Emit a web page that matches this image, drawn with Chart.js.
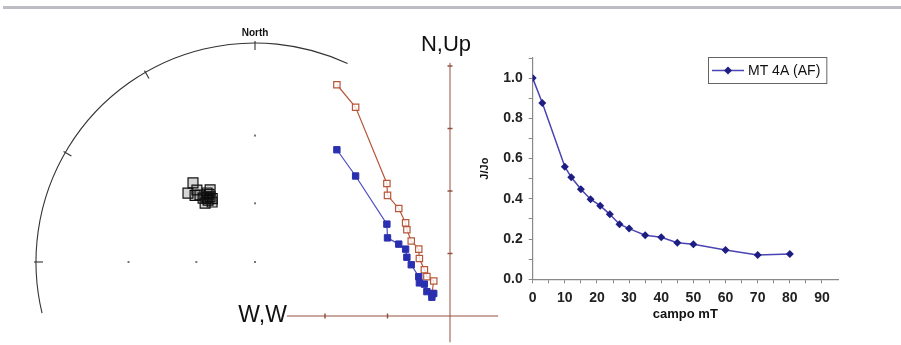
<!DOCTYPE html>
<html><head><meta charset="utf-8">
<script src="https://cdn.jsdelivr.net/npm/chart.js@4.4.0/dist/chart.umd.min.js"></script>
<style>
html,body{margin:0;padding:0;background:#fff;}
body{width:901px;height:345px;position:relative;overflow:hidden;}
#topline{position:absolute;left:3px;top:6px;width:898px;height:3px;background:#bcbcc4;}
#c1{position:absolute;left:0;top:0;}
#c2{position:absolute;left:476px;top:40px;}
</style></head><body>
<div id="topline"></div>
<canvas id="c1" width="505" height="345"></canvas>
<canvas id="c2" width="374" height="300"></canvas>
<script>
// ---- Stereonet (declination / inclination of demagnetisation steps) ----
const stereoDec = [321.9, 315.8, 321.1, 325.2, 328.1, 320.9, 322.8, 324.4, 320.6, 319.7, 325.4, 323.5, 326.0, 318.0, 323.0, 325.8];
const stereoInc = [40.7, 42.6, 44.2, 48.0, 47.6, 48.8, 51.0, 52.8, 46.8, 51.2, 50.3, 49.5, 51.5, 45.5, 50.0, 49.0];
const netLabel = "North";

// ---- Zijderveld diagram ----
const zijEast  = [-1.81, -1.51, -1.01, -1.00, -0.82, -0.71, -0.69, -0.62, -0.50, -0.49, -0.41, -0.37, -0.26, -0.29];
const zijNorth = [2.66, 2.24, 1.47, 1.25, 1.15, 1.07, 0.94, 0.82, 0.63, 0.53, 0.51, 0.39, 0.36, 0.30];
const zijUp    = [3.70, 3.34, 2.12, 1.93, 1.72, 1.49, 1.38, 1.20, 1.07, 0.92, 0.74, 0.63, 0.56, 0.36];
const zijVertLabel = "N,Up";
const zijHorLabel = "W,W";

// ---- AF demagnetisation curve ----
const fieldMT = [0, 3, 10, 12, 15, 18, 21, 24, 27, 30, 35, 40, 45, 50, 60, 70, 80];
const jRatio  = [1.0, 0.876, 0.56, 0.507, 0.448, 0.398, 0.366, 0.323, 0.274, 0.252, 0.219, 0.209, 0.182, 0.174, 0.146, 0.121, 0.126];
const seriesLabel = "MT 4A (AF)";
const xTitle = "campo mT";
const yTitle = "J/Jo";

Chart.defaults.font.family = "'Liberation Sans', Arial, sans-serif";
Chart.defaults.color = '#222';

const D2R = Math.PI / 180;
function stereo(dec, inc) {
  const r = Math.tan((90 - inc) / 2 * D2R);
  return { x: r * Math.sin(dec * D2R), y: r * Math.cos(dec * D2R) };
}

const netPlugin = {
  id: 'netAndAxes',
  beforeDatasetsDraw(chart) {
    const { ctx, scales } = chart;
    const sx = scales.sx, sy = scales.sy, zx = scales.zx, zy = scales.zy;
    const cx = sx.getPixelForValue(0), cy = sy.getPixelForValue(0);
    const r = sx.getPixelForValue(1) - cx;
    ctx.save();
    ctx.strokeStyle = '#333'; ctx.lineWidth = 1.1;
    ctx.beginPath();
    ctx.arc(cx, cy, r, (256.5 - 90) * D2R, (385 - 90) * D2R, false);
    ctx.stroke();
    [270, 300, 330, 360].forEach(az => {
      const a = (az - 90) * D2R;
      ctx.beginPath();
      ctx.moveTo(cx + Math.cos(a) * (r + 2), cy + Math.sin(a) * (r + 2));
      ctx.lineTo(cx + Math.cos(a) * (r - 7), cy + Math.sin(a) * (r - 7));
      ctx.stroke();
    });
    ctx.fillStyle = '#777';
    const dots = [[0, 90], [0, 60], [0, 30], [270, 60], [270, 30]];
    dots.forEach(([d, i]) => {
      const p = stereo(d, i);
      ctx.fillRect(sx.getPixelForValue(p.x) - 1, sy.getPixelForValue(p.y) - 1, 2, 2);
    });
    ctx.fillStyle = '#111';
    ctx.font = "bold 10px 'Liberation Sans', Arial, sans-serif";
    ctx.textAlign = 'center'; ctx.textBaseline = 'middle';
    ctx.fillText(netLabel, cx, cy - r - 10);

    const ox = zx.getPixelForValue(0), oy = zy.getPixelForValue(0);
    ctx.strokeStyle = '#94503f'; ctx.lineWidth = 1;
    ctx.beginPath();
    ctx.moveTo(zx.getPixelForValue(-2.61), oy); ctx.lineTo(zx.getPixelForValue(0.77), oy);
    ctx.moveTo(ox, zy.getPixelForValue(4.05)); ctx.lineTo(ox, zy.getPixelForValue(-0.42));
    ctx.stroke();
    ctx.lineWidth = 1.5;
    [1, 2, 3, 4].forEach(v => {
      const y = zy.getPixelForValue(v);
      ctx.beginPath(); ctx.moveTo(ox - 2.5, y); ctx.lineTo(ox + 2.5, y); ctx.stroke();
    });
    [-1, -2].forEach(v => {
      const x = zx.getPixelForValue(v);
      ctx.beginPath(); ctx.moveTo(x, oy - 2.5); ctx.lineTo(x, oy + 2.5); ctx.stroke();
    });
    ctx.fillStyle = '#111';
    ctx.font = "22px 'Liberation Sans', Arial, sans-serif";
    ctx.textAlign = 'center'; ctx.textBaseline = 'alphabetic';
    ctx.fillText(zijVertLabel, ox - 4, zy.getPixelForValue(4.05) - 12);
    ctx.font = "23px 'Liberation Sans', Arial, sans-serif";
    ctx.textAlign = 'right';
    ctx.fillText(zijHorLabel, zx.getPixelForValue(-2.61), oy + 6);
    ctx.restore();
  }
};

const W1 = 505, H1 = 345;
const netCx = 255, netCy = 262, netR = 219;
const zOx = 450, zOy = 316, zUnit = 62.5;

new Chart(document.getElementById('c1'), {
  type: 'scatter',
  data: {
    datasets: [
      {
        label: 'stereo',
        data: stereoDec.map((d, i) => stereo(d, stereoInc[i])),
        xAxisID: 'sx', yAxisID: 'sy',
        pointStyle: 'rect', pointRadius: 7, borderWidth: 1.2,
        pointBorderColor: '#111', pointBackgroundColor: 'rgba(0,0,0,0.16)'
      },
      {
        label: 'N',
        data: zijEast.map((e, i) => ({ x: e, y: zijNorth[i] })),
        xAxisID: 'zx', yAxisID: 'zy', showLine: true,
        borderColor: '#4a4cc0', borderWidth: 1.2,
        pointStyle: 'rect', pointRadius: 4.5, pointBorderWidth: 1,
        pointBorderColor: '#2a2fb0', pointBackgroundColor: '#2a2fb0'
      },
      {
        label: 'Up',
        data: zijEast.map((e, i) => ({ x: e, y: zijUp[i] })),
        xAxisID: 'zx', yAxisID: 'zy', showLine: true,
        borderColor: '#b8583a', borderWidth: 1.2,
        pointStyle: 'rect', pointRadius: 4.5, pointBorderWidth: 1.2,
        pointBorderColor: '#b8583a', pointBackgroundColor: 'rgba(255,255,255,0.8)'
      }
    ]
  },
  options: {
    responsive: false, animation: false,
    layout: { padding: 0, autoPadding: false },
    plugins: { legend: { display: false }, tooltip: { enabled: false } },
    scales: {
      sx: { type: 'linear', axis: 'x', display: false, min: -netCx / netR, max: (W1 - netCx) / netR },
      sy: { type: 'linear', axis: 'y', display: false, min: -(H1 - netCy) / netR, max: netCy / netR },
      zx: { type: 'linear', axis: 'x', display: false, min: -zOx / zUnit, max: (W1 - zOx) / zUnit },
      zy: { type: 'linear', axis: 'y', display: false, min: -(H1 - zOy) / zUnit, max: zOy / zUnit }
    }
  },
  plugins: [netPlugin]
});

const legendPlugin = {
  id: 'boxLegend',
  afterDraw(chart) {
    const { ctx } = chart;
    const ds = chart.data.datasets[0];
    ctx.save();
    ctx.font = "14px 'Liberation Sans', Arial, sans-serif";
    const tw = ctx.measureText(ds.label).width;
    const x0 = 232, y0 = 17, h = 26;
    const w = 40 + tw + 6;
    ctx.strokeStyle = '#666'; ctx.lineWidth = 1;
    ctx.strokeRect(x0 + 0.5, y0 + 0.5, w, h);
    const ym = y0 + h / 2 + 0.5;
    ctx.strokeStyle = ds.borderColor; ctx.lineWidth = 1.5;
    ctx.beginPath(); ctx.moveTo(x0 + 4, ym); ctx.lineTo(x0 + 36, ym); ctx.stroke();
    ctx.fillStyle = ds.pointBackgroundColor;
    ctx.beginPath();
    const px = x0 + 20;
    ctx.moveTo(px - 4, ym); ctx.lineTo(px, ym - 4); ctx.lineTo(px + 4, ym); ctx.lineTo(px, ym + 4); ctx.closePath(); ctx.fill();
    ctx.fillStyle = '#111';
    ctx.textBaseline = 'middle'; ctx.textAlign = 'left';
    ctx.fillText(ds.label, x0 + 40, ym + 1);
    ctx.restore();
  }
};

new Chart(document.getElementById('c2'), {
  type: 'line',
  data: {
    datasets: [{
      label: seriesLabel,
      data: fieldMT.map((f, i) => ({ x: f, y: jRatio[i] })),
      borderColor: '#4a44b4', borderWidth: 1.5, tension: 0,
      pointStyle: 'rectRot', pointRadius: 4, pointBorderWidth: 0,
      pointBackgroundColor: '#1d1d82', pointBorderColor: '#1d1d82'
    }]
  },
  options: {
    responsive: false, animation: false,
    layout: { padding: { top: 18, right: 12, left: 0, bottom: 0 }, autoPadding: false },
    plugins: { legend: { display: false }, tooltip: { enabled: false } },
    scales: {
      x: {
        type: 'linear', min: 0, max: 95,
        afterFit(s) { s.height = 60.7; },
        grid: { display: true, drawOnChartArea: false, drawTicks: true, tickLength: 4, color: '#888' },
        border: { display: true, color: '#888', width: 1.2 },
        ticks: { stepSize: 5, padding: 6, maxRotation: 0, autoSkip: false,
                 font: { size: 14, weight: 'bold' }, color: '#222',
                 callback: v => (v > 90 ? null : (v % 10 === 0 ? String(v) : '')) },
        title: { display: true, text: xTitle, font: { size: 13, weight: 'bold' }, color: '#111', padding: { top: 0, bottom: 18 } }
      },
      y: {
        min: 0, max: 1.1,
        afterFit(s) { s.width = 56.7; },
        grid: { display: true, drawOnChartArea: false, drawTicks: true, tickLength: 4, color: '#888' },
        border: { display: true, color: '#888', width: 1.2 },
        ticks: { stepSize: 0.1, padding: 6, autoSkip: false,
                 font: { size: 14, weight: 'bold' }, color: '#222',
                 callback: v => (Math.round(v * 10) % 2 === 0 && Math.round(v*10) <= 10 ? v.toFixed(1) : '') },
        title: { display: true, text: yTitle, font: { size: 11, weight: 'bold' }, color: '#111', padding: { top: 2, bottom: 2 } }
      }
    }
  },
  plugins: [legendPlugin]
});
</script>
</body></html>
